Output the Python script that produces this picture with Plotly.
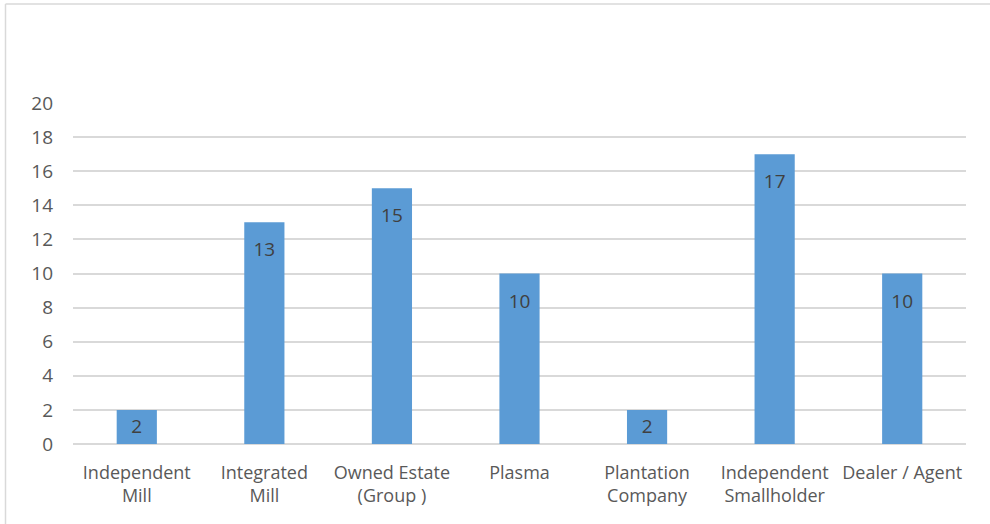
import plotly.graph_objects as go

categories = ["Independent<br>Mill", "Integrated<br>Mill", "Owned Estate<br>(Group )", "Plasma",
              "Plantation<br>Company", "Independent<br>Smallholder", "Dealer / Agent"]
values = [2, 13, 15, 10, 2, 17, 10]
y_ticks = [0, 2, 4, 6, 8, 10, 12, 14, 16, 18, 20]

W, H = 990, 524
L, R, T, B = 73, 24, 103, 80
pw, ph = W - L - R, H - T - B

# invisible marker size controls how far the label sits below the bar top
label_sizes = [30 if v > 3 else 12 for v in values]

fig = go.Figure()
fig.add_trace(go.Bar(
    x=categories, y=values,
    marker=dict(color="#5B9BD5", line=dict(width=0)),
    width=0.315,
    hoverinfo="skip",
))
fig.add_trace(go.Scatter(
    x=categories, y=values,
    mode="markers+text",
    marker=dict(size=label_sizes, opacity=0, color="#5B9BD5"),
    text=[str(v) for v in values],
    textposition="bottom center",
    textfont=dict(family="Open Sans", size=19, color="#404040"),
    cliponaxis=False,
    hoverinfo="skip",
))

fig.update_layout(
    width=W, height=H,
    margin=dict(l=L, r=R, t=T, b=B),
    paper_bgcolor="white", plot_bgcolor="white",
    showlegend=False,
    font=dict(family="Open Sans", color="#595959"),
    xaxis=dict(
        showgrid=False, showline=False, zeroline=False, ticks="",
        tickfont=dict(size=18, color="#595959"),
        range=[-0.5, 6.5],
        ticklabelstandoff=16,
    ),
    yaxis=dict(
        range=[0, 20], tickvals=y_ticks, ticktext=[str(t) for t in y_ticks],
        showgrid=True, gridcolor="#d9d9d9", gridwidth=1.5,
        zeroline=True, zerolinecolor="#d9d9d9", zerolinewidth=1.5,
        showline=False, ticks="", ticklen=0,
        tickfont=dict(size=19, color="#595959"),
        ticklabelstandoff=19,
    ),
    shapes=[
        dict(type="line", xref="paper", yref="paper",
             x0=(5.5 - L) / pw, x1=(5.5 - L) / pw,
             y0=(H - B - 4) / ph, y1=-(B + 5) / ph,
             line=dict(color="#d9d9d9", width=1.5)),
        dict(type="line", xref="paper", yref="paper",
             x0=(5.5 - L) / pw, x1=(W + 5 - L) / pw,
             y0=(H - B - 4) / ph, y1=(H - B - 4) / ph,
             line=dict(color="#d9d9d9", width=1.5)),
    ],
)

fig.write_html("out.html")
